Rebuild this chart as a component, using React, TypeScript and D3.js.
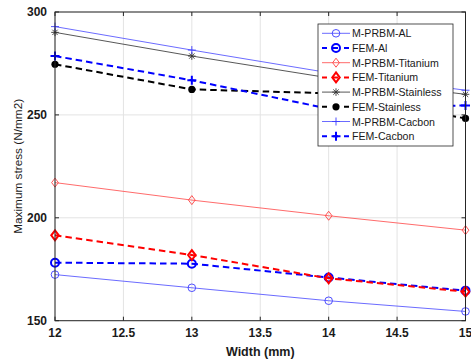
import React from 'react';
import * as d3 from 'd3';

// widths (mm)
const widths = [12, 13, 14, 15];
const xTicks = [12, 12.5, 13, 13.5, 14, 14.5, 15];
const yTicks = [150, 200, 250, 300];

// maximum stress values (N/mm2)
const prbmAl = [172.4, 166.0, 159.7, 154.5];
const femAl = [178.2, 177.7, 171.0, 164.6];
const prbmTitanium = [217.1, 208.6, 201.0, 194.0];
const femTitanium = [191.5, 181.9, 170.6, 164.1];
const prbmStainless = [290.1, 278.6, 268.0, 260.0];
const femStainless = [274.6, 262.4, 260.5, 248.3];
const prbmCacbon = [292.9, 281.5, 270.5, 262.0];
const femCacbon = [278.6, 266.8, 253.0, 254.6];

const W = 471;
const H = 362;
const margin = { top: 12, right: 5.5, bottom: 41.3, left: 55 };

type Series = {
  name: string;
  values: number[];
  color: string;
  lineColor: string;
  dashed: boolean;
  marker: 'circle' | 'diamond' | 'star' | 'dot' | 'plus';
};

const series: Series[] = [
  { name: 'M-PRBM-AL', values: prbmAl, color: '#3b3bff', lineColor: '#5a5aff', dashed: false, marker: 'circle' },
  { name: 'FEM-Al', values: femAl, color: '#0000ff', lineColor: '#0000ff', dashed: true, marker: 'circle' },
  { name: 'M-PRBM-Titanium', values: prbmTitanium, color: '#ff4040', lineColor: '#ff5a5a', dashed: false, marker: 'diamond' },
  { name: 'FEM-Titanium', values: femTitanium, color: '#ff0000', lineColor: '#ff0000', dashed: true, marker: 'diamond' },
  { name: 'M-PRBM-Stainless', values: prbmStainless, color: '#333333', lineColor: '#444444', dashed: false, marker: 'star' },
  { name: 'FEM-Stainless', values: femStainless, color: '#000000', lineColor: '#000000', dashed: true, marker: 'dot' },
  { name: 'M-PRBM-Cacbon', values: prbmCacbon, color: '#3b3bff', lineColor: '#5a5aff', dashed: false, marker: 'plus' },
  { name: 'FEM-Cacbon', values: femCacbon, color: '#0000ff', lineColor: '#0000ff', dashed: true, marker: 'plus' },
];

function Marker({ s, x, y }: { s: Series; x: number; y: number }) {
  const sw = s.dashed ? 2 : 0.9;
  const c = s.color;
  switch (s.marker) {
    case 'circle':
      return <circle cx={x} cy={y} r={s.dashed ? 4 : 3.8} fill="none" stroke={c} strokeWidth={sw} />;
    case 'diamond': {
      const r = s.dashed ? 5 : 4.5;
      return (
        <path
          d={`M${x},${y - r}L${x + r * 0.75},${y}L${x},${y + r}L${x - r * 0.75},${y}Z`}
          fill="none"
          stroke={c}
          strokeWidth={sw}
        />
      );
    }
    case 'star': {
      const r = 3.8;
      const d = r * 0.7;
      return (
        <path
          d={`M${x - r},${y}H${x + r}M${x},${y - r}V${y + r}M${x - d},${y - d}L${x + d},${y + d}M${x - d},${y + d}L${x + d},${y - d}`}
          stroke={c}
          strokeWidth={sw}
        />
      );
    }
    case 'dot':
      return <circle cx={x} cy={y} r={3.6} fill={c} />;
    case 'plus': {
      const r = s.dashed ? 4.5 : 4;
      return <path d={`M${x - r},${y}H${x + r}M${x},${y - r}V${y + r}`} stroke={c} strokeWidth={sw} />;
    }
  }
  return null;
}

export default function App() {
  const x = d3.scaleLinear().domain([12, 15]).range([margin.left, W - margin.right]);
  const y = d3.scaleLinear().domain([150, 300]).range([H - margin.bottom, margin.top]);
  const x0 = x.range()[0];
  const x1 = x.range()[1];
  const y0 = y.range()[0];
  const y1 = y.range()[1];

  const line = d3
    .line<number>()
    .x((_, i) => x(widths[i]))
    .y((d) => y(d));

  const axisColor = '#262626';
  const font = 'Liberation Sans, Arial, sans-serif';

  // legend
  const lg = { x: 318, y: 24, w: 135, h: 122, row: 14.7, first: 9.3 };

  return (
    <svg width={W} height={H} style={{ position: 'absolute', left: 0, top: 0, background: '#fff' }}>
      <rect x={0} y={0} width={W} height={H} fill="#fff" />
      {/* grid */}
      <g stroke="#e3e3e3" strokeWidth={1}>
        {xTicks.map((t) => (
          <line key={'gx' + t} x1={x(t)} x2={x(t)} y1={y0} y2={y1} />
        ))}
        {yTicks.map((t) => (
          <line key={'gy' + t} x1={x0} x2={x1} y1={y(t)} y2={y(t)} />
        ))}
      </g>

      {/* series */}
      {series.map((s) => (
        <g key={s.name}>
          <path
            d={line(s.values) || ''}
            fill="none"
            stroke={s.lineColor}
            strokeWidth={s.dashed ? 2 : 0.9}
            strokeDasharray={s.dashed ? '6.5,4' : undefined}
          />
          {s.values.map((v, i) => (
            <Marker key={i} s={s} x={x(widths[i])} y={y(v)} />
          ))}
        </g>
      ))}

      {/* axes box and ticks */}
      <rect x={x0} y={y1} width={x1 - x0} height={y0 - y1} fill="none" stroke={axisColor} strokeWidth={1} />
      <g stroke={axisColor} strokeWidth={1}>
        {xTicks.map((t) => (
          <g key={'tx' + t}>
            <line x1={x(t)} x2={x(t)} y1={y0} y2={y0 - 4} />
            <line x1={x(t)} x2={x(t)} y1={y1} y2={y1 + 4} />
          </g>
        ))}
        {yTicks.map((t) => (
          <g key={'ty' + t}>
            <line x1={x0} x2={x0 + 4} y1={y(t)} y2={y(t)} />
            <line x1={x1} x2={x1 - 4} y1={y(t)} y2={y(t)} />
          </g>
        ))}
      </g>

      {/* tick labels */}
      <g fontFamily={font} fontSize={12} fontWeight="bold" fill="#1a1a1a">
        {xTicks.map((t) => (
          <text key={'lx' + t} x={x(t)} y={y0 + 16} textAnchor="middle">
            {t}
          </text>
        ))}
        {yTicks.map((t) => (
          <text key={'ly' + t} x={x0 - 8} y={y(t) + 4} textAnchor="end">
            {t}
          </text>
        ))}
      </g>

      {/* axis titles */}
      <text
        x={(x0 + x1) / 2}
        y={356}
        textAnchor="middle"
        fontFamily={font}
        fontSize={12.5}
        fontWeight="bold"
        fill="#1a1a1a"
      >
        Width (mm)
      </text>
      <text
        transform={`translate(21.5,${(y0 + y1) / 2}) rotate(-90)`}
        textAnchor="middle"
        fontFamily={font}
        fontSize={11.8}
        fill="#1a1a1a"
      >
        Maximum stress (N/mm2)
      </text>

      {/* legend */}
      <g>
        <rect x={lg.x} y={lg.y} width={lg.w} height={lg.h} fill="#fff" stroke={axisColor} strokeWidth={0.8} />
        {series.map((s, i) => {
          const cy = lg.y + lg.first + i * lg.row;
          return (
            <g key={'lg' + s.name}>
              <line
                x1={lg.x + 4}
                x2={lg.x + 32}
                y1={cy}
                y2={cy}
                stroke={s.lineColor}
                strokeWidth={s.dashed ? 2 : 0.9}
                strokeDasharray={s.dashed ? '5,6' : undefined}
              />
              <Marker s={s} x={lg.x + 18} y={cy} />
              <text x={lg.x + 34} y={cy + 4} fontFamily={font} fontSize={10.6} fill="#1a1a1a">
                {s.name}
              </text>
            </g>
          );
        })}
      </g>
    </svg>
  );
}
